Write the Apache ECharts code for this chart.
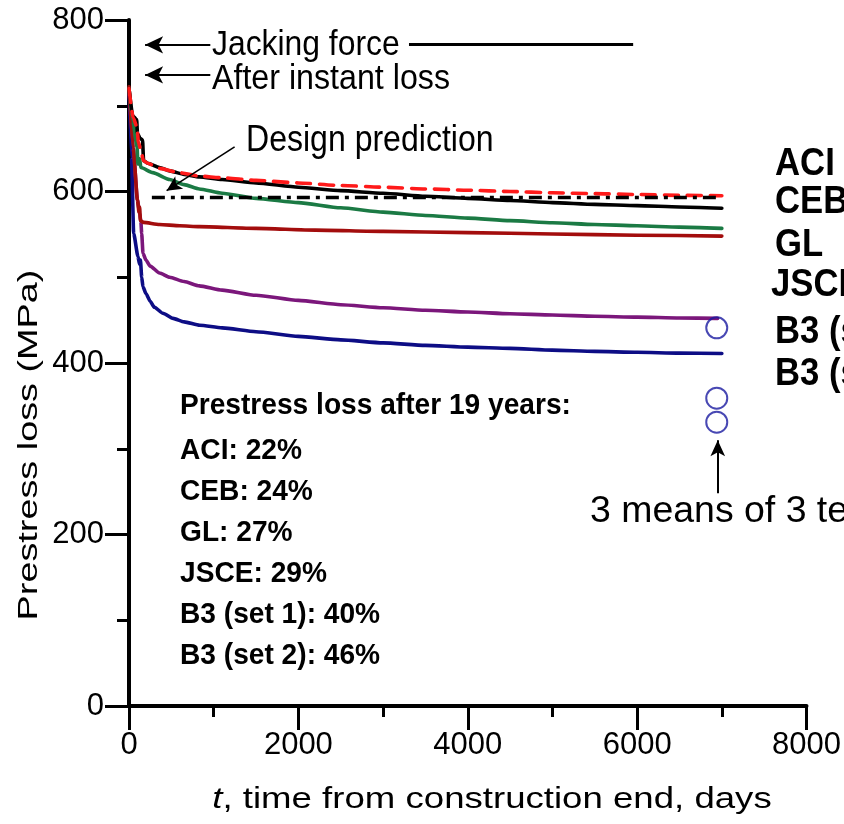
<!DOCTYPE html>
<html>
<head>
<meta charset="utf-8">
<script src="https://cdn.jsdelivr.net/npm/echarts@6/dist/echarts.min.js"></script>
<style>
  html, body { margin: 0; padding: 0; background: #fff; }
  #chart { width: 844px; height: 824px; }
</style>
</head>
<body>
<div id="chart"></div>
<script>
// Effective prestress in the tendons, [days after construction end, MPa]
const aciCurve = [[0,720],[50,686],[95,675],[110,658],[140,648],[170,636],[220,633],[360,627],[590,622],[830,618],[1100,616],[1500,613],[2000,610],[2500,607],[3000,605],[3500,603],[4000,601.5],[4500,600],[5000,598.5],[5500,597.5],[6000,596.5],[6500,595.5],[7000,595]];
const cebCurve = [[0,720],[45,688],[90,684],[100,668],[130,662],[160,660],[172,636],[220,633],[360,628],[480,624],[650,620],[830,617],[1100,614],[1500,610],[2000,605],[2500,601],[3000,598],[3500,594.5],[4000,592],[4500,589.5],[5000,587],[5500,585],[6000,583.5],[6500,582],[7000,580.5]];
const glCurve = [[0,720],[45,682],[95,652],[105,632],[125,638],[140,628],[280,622],[480,614],[650,608],[830,603],[1100,598],[1500,592],[2000,587],[2500,581],[3000,576],[3500,572],[4000,569],[4500,566],[5000,563.5],[5500,561.5],[6000,560],[6500,558.5],[7000,557]];
const jsceCurve = [[0,722],[50,650],[100,590],[118,576],[125,582],[135,566],[170,564],[360,561.5],[600,560],[830,559],[1500,557],[2200,555],[3000,553.5],[4000,552],[5000,550.5],[6000,549],[7000,548]];
const b3Set1Curve = [[0,720],[50,650],[100,590],[125,575],[140,565],[150,551],[165,528],[200,520],[250,513],[360,505],[480,500],[650,495],[830,490],[1100,485],[1500,479],[2000,473],[2500,468],[3000,464.5],[3500,461.5],[4000,459.5],[4500,457.5],[5000,456],[5500,454.5],[6000,453.5],[6500,452.5],[6950,452]];
const b3Set2Curve = [[0,720],[30,640],[55,551],[106,524],[125,515],[135,520],[150,500],[165,489],[200,481],[250,472],[300,465],[400,458],[520,452],[650,448],[835,444],[1100,441],[1500,436.5],[2000,431],[2500,427],[3000,423.5],[3500,420.5],[4000,418.5],[4500,417],[5000,415],[5500,413.5],[6000,412.5],[6500,411.5],[7000,411]];

// Design value and measured means of the test groups
const designPrediction = [[270,593],[6976,593]];
const testDay = 6940;
const testMeans = [441, 359, 331];

// Reference force levels marked on the stress axis
const jackingForce = 771;
const afterInstantLoss = 736;

// Model names and their predicted loss after 19 years (%)
const modelNames = ['ACI', 'CEB', 'GL', 'JSCE', 'B3 (set 1)', 'B3 (set 2)'];
const lossAfter19Years = [22, 24, 27, 29, 40, 46];

// Axis ranges
const xRange = [0, 8000];
const yRange = [0, 800];

const tickFont = "'Liberation Sans Narrow','Arial Narrow','Liberation Sans',sans-serif";
const textFont = "'Liberation Sans',Arial,sans-serif";

const chart = echarts.init(document.getElementById('chart'), null, { renderer: 'canvas' });

function curve(name, data, color, type) {
  return {
    name, type: 'line', data, symbol: 'none',
    smooth: 0.2, smoothMonotone: 'x',
    lineStyle: { color, width: 3.6, type: type || 'solid', cap: 'round', join: 'round' },
    silent: true, z: 3
  };
}

const arrowEnd = (coord, size) => ({ coord, symbol: 'arrow', symbolSize: size });
const plainEnd = (coord) => ({ coord, symbol: 'none' });

const series = [
  curve('B3 (set 2)', b3Set2Curve, '#0d0d85'),
  curve('B3 (set 1)', b3Set1Curve, '#7b177b'),
  curve('JSCE', jsceCurve, '#a30d0d'),
  curve('GL', glCurve, '#1b7a44'),
  curve('CEB', cebCurve, '#000000'),
  Object.assign(curve('ACI', aciCurve, '#ff1a1a', [14, 9]), { z: 4 }),
  {
    name: 'Design prediction', type: 'line', data: designPrediction, symbol: 'none', silent: true, z: 5,
    lineStyle: { color: '#000', width: 3.6, type: [13, 6, 4, 6] },
    markLine: {
      silent: true, animation: false, label: { show: false },
      emphasis: { disabled: true },
      lineStyle: { color: '#000', width: 2, type: 'solid' },
      data: [
        [plainEnd([960, jackingForce]), arrowEnd([190, jackingForce], [13, 18])],
        [plainEnd([960, afterInstantLoss]), arrowEnd([190, afterInstantLoss], [13, 18])],
        [Object.assign(plainEnd([3306, 772]), { lineStyle: { width: 3.2 } }), plainEnd([5953, 772])],
        [Object.assign(plainEnd([1247, 652]), { lineStyle: { width: 1.6 } }), arrowEnd([444, 601], [11, 15])],
        [Object.assign(plainEnd([testDay + 12, 248]), { lineStyle: { width: 2 } }), arrowEnd([testDay + 12, 310], [11, 16])]
      ]
    }
  },
  {
    name: 'Tests', type: 'scatter', symbol: 'circle', symbolSize: 21, silent: true, z: 6,
    data: testMeans.map(v => [testDay, v]),
    itemStyle: { color: 'rgba(0,0,0,0)', borderColor: '#1a1aa0', borderWidth: 2 }
  }
];

const graphic = [];
function note(text, x, y, font, scaleX) {
  graphic.push({
    type: 'text', x, y, scaleX: scaleX || 1, silent: true, z: 10,
    style: { text, x: 0, y: 0, font, fill: '#000', align: 'left', verticalAlign: 'middle',
             textAlign: 'left', textVerticalAlign: 'middle' }
  });
}

// Annotations beside the arrows
note('Jacking force', 212, 45, `35px ${textFont}`, 0.91);
note('After instant loss', 212, 79, `35px ${textFont}`, 0.92);
note('Design prediction', 246, 141, `36px ${textFont}`, 0.89);
note('3 means of 3 tests', 590, 512, `36px ${textFont}`, 1.04);

// Summary block of predicted losses
note('Prestress loss after 19 years:', 180, 406, `bold 29px ${textFont}`, 0.97);
modelNames.forEach((n, i) => {
  note(`${n}: ${lossAfter19Years[i]}%`, 180, 451 + i * 41, `bold 29px ${textFont}`, 0.97);
});

// Model labels at the curve ends
const labelRows = [164, 202, 245, 285, 332, 374];
modelNames.forEach((n, i) => {
  note(n, n === 'JSCE' ? 771 : 775, labelRows[i], `bold 39px ${textFont}`, 0.89);
});

// Axis titles
graphic.push({
  type: 'text', x: 492, y: 800, scaleX: 1.22, silent: true, z: 10,
  style: {
    text: '{i|t}, time from construction end, days', x: 0, y: 0,
    font: `30px ${textFont}`, fill: '#000', align: 'center', verticalAlign: 'middle',
    textAlign: 'center', textVerticalAlign: 'middle',
    rich: { i: { fontStyle: 'italic', fontSize: 30, fontFamily: textFont } }
  }
});
graphic.push({
  type: 'text', x: 30, y: 445, rotation: Math.PI / 2, scaleX: 1.4, silent: true, z: 10,
  style: {
    text: 'Prestress loss (MPa)', x: 0, y: 0, font: `27px ${textFont}`, fill: '#000',
    align: 'center', verticalAlign: 'middle', textAlign: 'center', textVerticalAlign: 'middle'
  }
});

chart.setOption({
  animation: false,
  backgroundColor: '#fff',
  grid: { left: 129, right: 35, top: 20, bottom: 118, containLabel: false },
  xAxis: {
    type: 'value', min: xRange[0], max: xRange[1], interval: 2000,
    axisLine: { show: true, onZero: false, lineStyle: { color: '#000', width: 4 } },
    axisTick: { show: true, length: 24, lineStyle: { color: '#000', width: 3 } },
    minorTick: { show: true, splitNumber: 2, length: 11, lineStyle: { color: '#000', width: 3 } },
    splitLine: { show: false },
    axisLabel: { color: '#000', fontFamily: tickFont, fontSize: 31, margin: 24, formatter: v => String(v) }
  },
  yAxis: {
    type: 'value', min: yRange[0], max: yRange[1], interval: 200,
    axisLine: { show: true, lineStyle: { color: '#000', width: 4 } },
    axisTick: { show: true, length: 24, lineStyle: { color: '#000', width: 3 } },
    minorTick: { show: true, splitNumber: 2, length: 12, lineStyle: { color: '#000', width: 3 } },
    splitLine: { show: false },
    axisLabel: { color: '#000', fontFamily: tickFont, fontSize: 31, margin: 25, formatter: v => String(v) }
  },
  series,
  graphic
});
</script>
</body>
</html>
